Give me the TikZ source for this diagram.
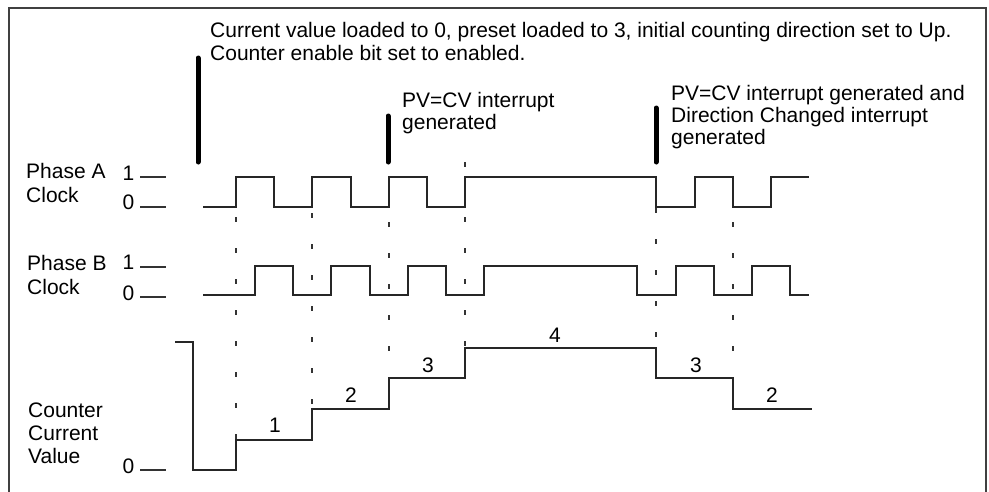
\documentclass[tikz,border=0pt]{standalone}
\usepackage{fontspec}
\setmainfont{Liberation Sans}
\begin{document}
\begin{tikzpicture}[x=1pt,y=-1pt,
  txt/.style={inner sep=0pt,anchor=base west,font=\fontsize{21}{22.5}\selectfont},
  num/.style={inner sep=0pt,anchor=base,font=\fontsize{21}{22.5}\selectfont},
  wave/.style={line width=1.4pt,black!85,line join=miter},
  tick/.style={line width=1.2pt,black!80},
  bar/.style={line width=5pt,line cap=round},
  guide/.style={line width=1.2pt,black!80,dash pattern=on 5pt off 26pt},
  frame/.style={line width=1.6pt,black!75}]
\useasboundingbox (0,0) rectangle (989,491);
% frame (bottom edge outside the picture)
\draw[frame] (9,495) -- (9,8) -- (986,8) -- (986,495);

% annotations
\node[txt] (t1) at (210,37) {Current value loaded to 0, preset loaded to 3, initial counting direction set to Up.};
\node[txt] (t2) at (210,60) {Counter enable bit set to enabled.};
\node[txt] (p1) at (402,107) {PV=CV interrupt};
\node[txt] (p2) at (402,129) {generated};
\node[txt] (q1) at (671,100) {PV=CV interrupt generated and};
\node[txt] (q2) at (671,122) {Direction Changed interrupt};
\node[txt] (q3) at (671,144) {generated};

% thick event bars
\draw[bar] (198,58) -- (198,162);
\draw[bar] (388,116) -- (388,162);
\draw[bar] (656,108) -- (656,162);

% row labels
\node[txt] (la1) at (26,178) {Phase A};
\node[txt] (la2) at (26,202) {Clock};
\node[txt] (lb1) at (27,270) {Phase B};
\node[txt] (lb2) at (27,294) {Clock};
\node[txt] (lc1) at (28,417) {Counter};
\node[txt] (lc2) at (28,440) {Current};
\node[txt] (lc3) at (28,463) {Value};

% level ticks
\node[num] (a1) at (128.5,180) {1};
\node[num] (a0) at (128.5,209) {0};
\node[num] (b1) at (128.5,269) {1};
\node[num] (b0) at (128.5,300) {0};
\node[num] (c0) at (128.5,473) {0};
\draw[tick] (140,177) -- (166,177);
\draw[tick] (140,207) -- (166,207);
\draw[tick] (140,267) -- (166,267);
\draw[tick] (140,297) -- (166,297);
\draw[tick] (140,470) -- (166,470);

% guide lines
\draw[guide] (236,217) -- (236,440);
\draw[guide] (312,213) -- (312,409);
\draw[guide] (389,222) -- (389,378);
\draw[guide] (465,162) -- (465,177);
\draw[guide] (465,217) -- (465,348);
\draw[guide] (656,208) -- (656,348);
\draw[guide] (733,222) -- (733,378);

% Phase A
\draw[wave] (203,207) -- (236,207) -- (236,177) -- (274,177) -- (274,207) -- (312,207)
  -- (312,177) -- (351,177) -- (351,207) -- (389,207) -- (389,177) -- (427,177)
  -- (427,207) -- (465,207) -- (465,177) -- (656,177) -- (656,207) -- (695,207)
  -- (695,177) -- (733,177) -- (733,207) -- (771,207) -- (771,177) -- (809,177);

% Phase B
\draw[wave] (203,295) -- (255,295) -- (255,266) -- (293,266) -- (293,295) -- (331,295)
  -- (331,266) -- (370,266) -- (370,295) -- (408,295) -- (408,266) -- (446,266)
  -- (446,295) -- (484,295) -- (484,266) -- (637,266) -- (637,295) -- (676,295)
  -- (676,266) -- (714,266) -- (714,295) -- (752,295) -- (752,266) -- (790,266)
  -- (790,295) -- (809,295);

% Counter current value
\draw[wave] (175,342) -- (193,342) -- (193,470) -- (236,470) -- (236,440) -- (312,440)
  -- (312,409) -- (389,409) -- (389,378) -- (465,378) -- (465,348) -- (656,348)
  -- (656,378) -- (733,378) -- (733,409) -- (812,409);

% counter values
\node[num] (v1) at (275,432) {1};
\node[num] (v2) at (351,402) {2};
\node[num] (v3) at (428,372) {3};
\node[num] (v4) at (555,342) {4};
\node[num] (v5) at (696,372) {3};
\node[num] (v6) at (772,402) {2};
\end{tikzpicture}
\end{document}
